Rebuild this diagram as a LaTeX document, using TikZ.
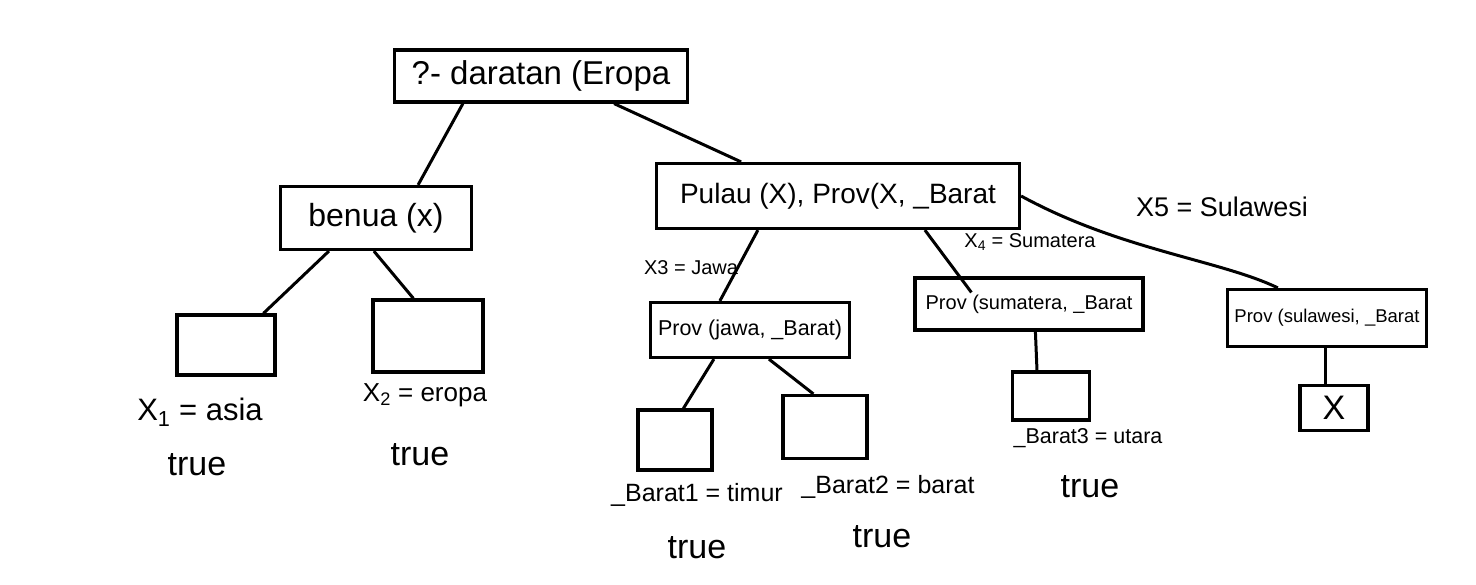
\documentclass[tikz,border=0pt]{standalone}
\usepackage{fontspec}
\setmainfont{Liberation Sans}
\begin{document}
\begin{tikzpicture}[x=1pt,y=-1pt,
  box/.style={draw,line width=3.2pt,inner sep=0pt,anchor=center},
  lbl/.style={inner sep=0pt,anchor=center},
  truelbl/.style={lbl,font=\fontsize{34}{36}\selectfont},
  edge/.style={line width=3pt}]
\useasboundingbox[fill=white] (0,0) rectangle (1476,584);
% boxes
\node[box,minimum width=293pt,minimum height=52pt,font=\fontsize{33}{35}\selectfont] (root) at (541,76) {?- daratan (Eropa};
\node[box,minimum width=191pt,minimum height=63pt,font=\fontsize{32}{34}\selectfont] (benua) at (376,218) {benua (x)};
\node[box,minimum width=363pt,minimum height=65pt,font=\fontsize{28}{30}\selectfont] (pulau) at (838,196) {Pulau (X), Prov(X, \_Barat};
\node[box,minimum width=98pt,minimum height=60pt] (e1) at (226,345) {};
\node[box,minimum width=110pt,minimum height=72pt] (e2) at (428,336) {};
\node[box,minimum width=199pt,minimum height=55pt,font=\fontsize{21.5}{23}\selectfont] (jawa) at (750,330) {Prov (jawa, \_Barat)};
\node[box,minimum width=228pt,minimum height=52pt,font=\fontsize{20}{22}\selectfont] (sumatera) at (1029,304) {Prov (sumatera, \_Barat};
\node[box,minimum width=199pt,minimum height=57pt,font=\fontsize{18.5}{20}\selectfont] (sulawesi) at (1327,318) {Prov (sulawesi, \_Barat};
\node[box,minimum width=68pt,minimum height=45pt,font=\fontsize{34}{36}\selectfont] (fail) at (1334,408) {X};
\node[box,minimum width=74pt,minimum height=60pt] (e3) at (675,440) {};
\node[box,minimum width=84pt,minimum height=63pt] (e4) at (825,427) {};
\node[box,minimum width=77pt,minimum height=48pt] (e5) at (1051,396) {};
% labels
\node[lbl,font=\fontsize{31}{33}\selectfont] (l1) at (200,412) {X\textsubscript{1} = asia};
\node[truelbl] (t1) at (197,465) {true};
\node[lbl,font=\fontsize{26}{28}\selectfont] (l2) at (425,395) {X\textsubscript{2} = eropa};
\node[truelbl] (t2) at (420,455) {true};
\node[lbl,font=\fontsize{25}{27}\selectfont] (l3) at (697,495) {\_Barat1 = timur};
\node[truelbl] (t3) at (697,548) {true};
\node[lbl,font=\fontsize{25}{27}\selectfont] (l4) at (888,487) {\_Barat2 = barat};
\node[truelbl] (t4) at (882,537) {true};
\node[lbl,font=\fontsize{21.5}{23}\selectfont] (l5) at (1088,438) {\_Barat3 = utara};
\node[truelbl] (t5) at (1090,487) {true};
\node[lbl,font=\fontsize{20}{22}\selectfont] (lx3) at (691,268) {X3 = Jawa};
\node[lbl,font=\fontsize{20}{22}\selectfont] (lx4) at (1030,242) {X\textsubscript{4} = Sumatera};
\node[lbl,font=\fontsize{27}{29}\selectfont] (lx5) at (1222,207) {X5 = Sulawesi};
% edges
\draw[edge] ([xshift=70pt]root.south west) -- ([xshift=-55pt]benua.north east);
\draw[edge] ([xshift=-75pt]root.south east) -- ([xshift=-280pt]pulau.north east);
\draw[edge] ([xshift=50pt]benua.south west) -- ([xshift=88pt]e1.north west);
\draw[edge] ([xshift=95pt]benua.south west) -- ([xshift=42pt]e2.north west);
\draw[edge] ([xshift=103pt]pulau.south west) -- ([xshift=71pt]jawa.north west);
\draw[edge] ([xshift=270pt]pulau.south west) -- ([xshift=58pt,yshift=-16pt]sumatera.north west);
\draw[edge] (pulau.east) .. controls (1120,250) and (1220,260) .. ([xshift=52pt]sulawesi.north west);
\draw[edge] ([xshift=65pt]jawa.south west) -- ([xshift=47pt]e3.north west);
\draw[edge] ([xshift=120pt]jawa.south west) -- ([xshift=32pt]e4.north west);
\draw[edge] ([xshift=122pt]sumatera.south west) -- ([xshift=-14pt]e5.north);
\draw[edge] ([xshift=-2pt]sulawesi.south) -- ([xshift=-9pt]fail.north);
\end{tikzpicture}
\end{document}
